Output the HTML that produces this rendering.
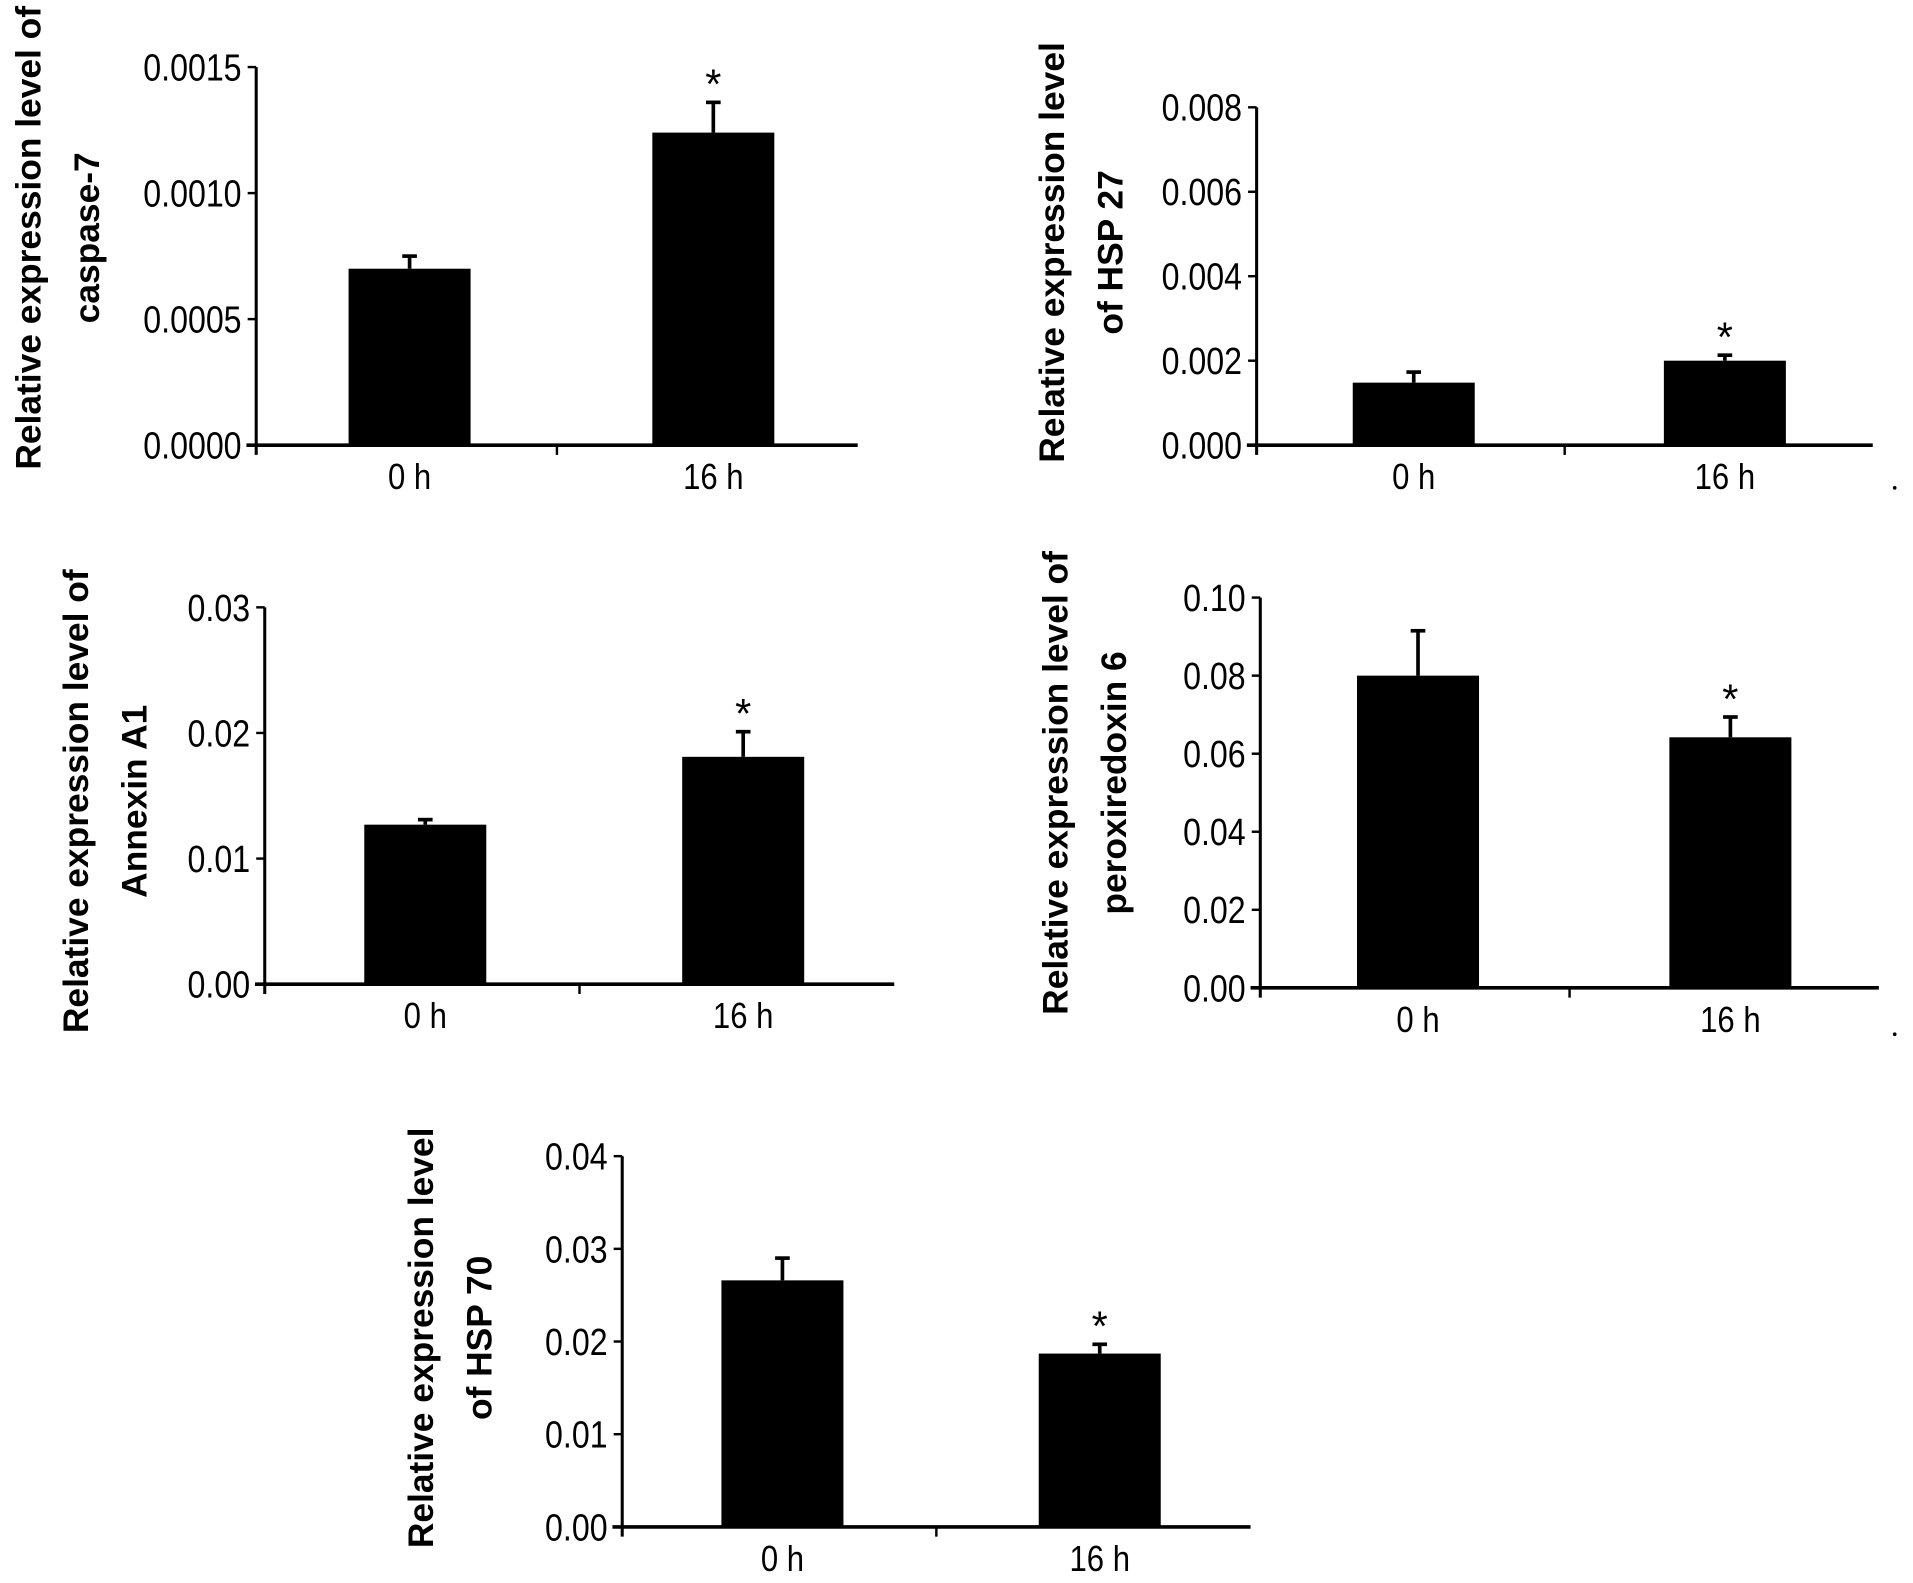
<!DOCTYPE html>
<html><head><meta charset="utf-8"><style>
html,body{margin:0;padding:0;background:#fff;}
svg{display:block;}
text{font-family:"Liberation Sans",Arial,sans-serif;fill:#000;}
.tick{font-size:31px;}
.cat{font-size:30px;}
.ylab{font-size:29px;font-weight:bold;}
</style></head><body>
<svg id="fig" width="1913" height="1583" viewBox="0 0 1568 1298" preserveAspectRatio="none"></svg>
<script>
const categories = ["0 h", "16 h"];
const caspaseValues = [0.00070, 0.00124];
const caspaseErrors = [0.00005, 0.00012];
const caspaseTicks = ["0.0000", "0.0005", "0.0010", "0.0015"];
const hsp27Values = [0.00148, 0.00200];
const hsp27Errors = [0.00025, 0.00013];
const hsp27Ticks = ["0.000", "0.002", "0.004", "0.006", "0.008"];
const annexinValues = [0.0127, 0.0181];
const annexinErrors = [0.0004, 0.0020];
const annexinTicks = ["0.00", "0.01", "0.02", "0.03"];
const prdxValues = [0.0800, 0.0642];
const prdxErrors = [0.0115, 0.0052];
const prdxTicks = ["0.00", "0.02", "0.04", "0.06", "0.08", "0.10"];
const hsp70Values = [0.0266, 0.0187];
const hsp70Errors = [0.0024, 0.0010];
const hsp70Ticks = ["0.00", "0.01", "0.02", "0.03", "0.04"];
const significant = [false, true];

const NS = "http://www.w3.org/2000/svg";
const svg = document.getElementById("fig");
function mk(tag, attrs, parent) {
  const e = document.createElementNS(NS, tag);
  for (const k in attrs) e.setAttribute(k, attrs[k]);
  (parent || svg).appendChild(e);
  return e;
}
function panel(p) {
  const g = mk("g", {});
  
  
  const maxV = parseFloat(p.ticks[p.ticks.length - 1]);
  const yS = v => p.y0 - (v / maxV) * (p.y0 - p.yTop);
  const xW = p.x1 - p.ax;
  const xS = i => p.ax + xW * (0.255 + 0.505 * i / (categories.length - 1));
  p.values.forEach((v, i) => {
    const cx = xS(i), bw = 100;
    const e = mk("line", {x1: cx, x2: cx, y1: yS(v), y2: yS(v + p.errors[i]), stroke: "#000", "stroke-width": 3}, g);
    
    
    const cap = mk("line", {x1: cx - 6, x2: cx + 6, y1: yS(v + p.errors[i]), y2: yS(v + p.errors[i]), stroke: "#000", "stroke-width": 3}, g);
    
    
    const r = mk("rect", {x: cx - bw / 2, y: yS(v), width: bw, height: p.y0 - yS(v), fill: "#000"}, g);
    
    
    if (significant[i]) {
      const s = mk("text", {x: cx, y: yS(v + p.errors[i]) - 3, "text-anchor": "middle", "font-size": 34}, g);
      s.textContent = "*";
      
      
    }
    const t = mk("text", {transform: `translate(${cx},${p.y0 + 36}) scale(0.85,1)`, "text-anchor": "middle", class: "cat"}, g);
    t.textContent = categories[i];
    
    
  });
  const ya = mk("line", {x1: p.ax, x2: p.ax, y1: p.yTop, y2: p.y0 + 8, stroke: "#000", "stroke-width": 2.5}, g);
  
  
  const xa = mk("line", {x1: p.ax - 8, x2: p.x1, y1: p.y0, y2: p.y0, stroke: "#000", "stroke-width": 3}, g);
  
  
  const mt = mk("line", {x1: p.ax + xW / 2, x2: p.ax + xW / 2, y1: p.y0, y2: p.y0 + 8, stroke: "#000", "stroke-width": 2}, g);
  
  
  p.ticks.forEach(tk => {
    const y = yS(parseFloat(tk));
    const l = mk("line", {x1: p.ax - 7, x2: p.ax, y1: y, y2: y, stroke: "#000", "stroke-width": 2}, g);
    
    
    const t = mk("text", {transform: `translate(${p.ax - 12},${y + 11}) scale(0.85,1)`, "text-anchor": "end", class: "tick"}, g);
    t.textContent = tk;
    
    
  });
  const yl = mk("text", {transform: `translate(${p.lx},${p.ly}) rotate(-90)`, "text-anchor": "middle", class: "ylab"}, g);
  
  
  p.label.forEach((ln, k) => {
    const ts = mk("tspan", {x: 0, dy: k === 0 ? 0 : 48}, yl);
    ts.textContent = ln;
  });
}
panel({name: "caspase7-chart", ax: 210, x1: 703, yTop: 55, y0: 365, values: caspaseValues, errors: caspaseErrors, ticks: caspaseTicks, lx: 33, ly: 195, label: ["Relative expression level of", "caspase-7"]});
panel({name: "hsp27-chart", ax: 1030, x1: 1535, yTop: 88, y0: 365, values: hsp27Values, errors: hsp27Errors, ticks: hsp27Ticks, lx: 872, ly: 207, label: ["Relative expression level", "of HSP 27"]});
panel({name: "annexin-a1-chart", ax: 217, x1: 733, yTop: 498, y0: 807, values: annexinValues, errors: annexinErrors, ticks: annexinTicks, lx: 72, ly: 657, label: ["Relative expression level of", "Annexin A1"]});
panel({name: "peroxiredoxin6-chart", ax: 1033, x1: 1540, yTop: 490, y0: 810, values: prdxValues, errors: prdxErrors, ticks: prdxTicks, lx: 875, ly: 642, label: ["Relative expression level of", "peroxiredoxin 6"]});
panel({name: "hsp70-chart", ax: 510, x1: 1025, yTop: 948, y0: 1252, values: hsp70Values, errors: hsp70Errors, ticks: hsp70Ticks, lx: 355, ly: 1097, label: ["Relative expression level", "of HSP 70"]});
[[1553, 400], [1553, 848]].forEach(d => {
  const c = mk("circle", {cx: d[0], cy: d[1], r: 1.5, fill: "#000"});
  
  
});
</script>
</body></html>
